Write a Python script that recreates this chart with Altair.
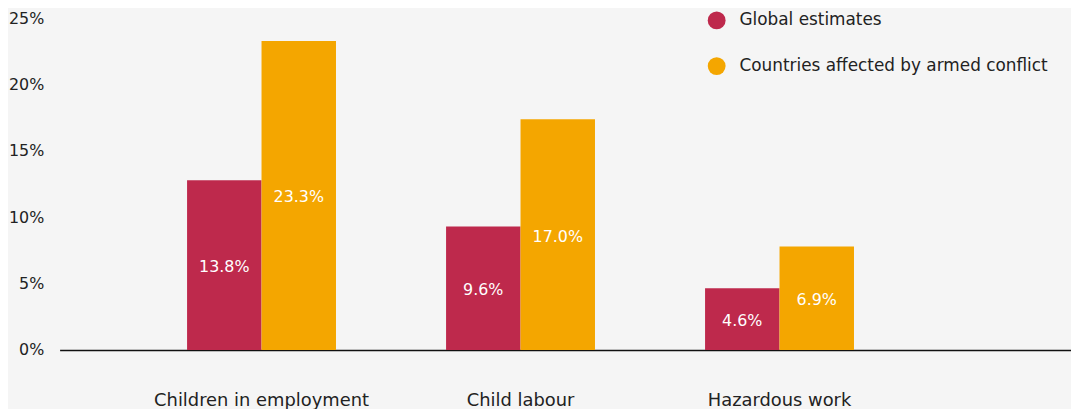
import altair as alt
import pandas as pd

categories = ["Children in employment", "Child labour", "Hazardous work"]
series = ["Global estimates", "Countries affected by armed conflict"]
global_values = [12.8, 9.3, 4.65]
conflict_values = [23.3, 17.4, 7.8]
global_labels = ["13.8%", "9.6%", "4.6%"]
conflict_labels = ["23.3%", "17.0%", "6.9%"]
colors = ["#BE294C", "#F4A600"]

rows = []
for i, c in enumerate(categories):
    rows.append({"category": c, "series": series[0], "value": global_values[i], "label": global_labels[i]})
    rows.append({"category": c, "series": series[1], "value": conflict_values[i], "label": conflict_labels[i]})
df = pd.DataFrame(rows)

FONT = "DejaVu Sans"

x = alt.X("category:N", sort=categories, title=None,
          scale=alt.Scale(paddingInner=0.425, paddingOuter=0.665, align=0.37),
          axis=alt.Axis(labelAngle=0, ticks=False, labelPadding=42, labelFontSize=18,
                        labelColor="#222222", labelFont=FONT, labelLimit=400, domain=True,
                        domainColor="#111111", domainWidth=1.5))
xo = alt.XOffset("series:N", sort=series, scale=alt.Scale(paddingInner=0, paddingOuter=0))

bars = alt.Chart(df).mark_bar().encode(
    x=x,
    xOffset=xo,
    y=alt.Y("value:Q", title=None,
            scale=alt.Scale(domain=[0, 25], nice=False),
            axis=alt.Axis(values=[0, 5, 10, 15, 20, 25], labelExpr="datum.value + '%'",
                          ticks=False, domain=False, grid=False, labelPadding=16,
                          labelFontSize=16, labelColor="#222222", labelFont=FONT)),
    color=alt.Color("series:N", sort=series,
                    scale=alt.Scale(domain=series, range=colors),
                    legend=alt.Legend(title=None, orient="none", legendX=653, legendY=-7,
                                      symbolType="circle", symbolSize=324, symbolStrokeWidth=0,
                                      labelFontSize=17, labelFont=FONT, labelColor="#222222",
                                      labelOffset=14, rowPadding=28, labelLimit=500)),
)

texts = alt.Chart(df).transform_calculate(mid="datum.value / 2").mark_text(
    color="white", fontSize=16, font=FONT, baseline="middle", align="center", dy=2
).encode(
    x=alt.X("category:N", sort=categories),
    xOffset=alt.XOffset("series:N", sort=series),
    y=alt.Y("mid:Q"),
    text="label:N",
)

chart = alt.layer(bars, texts).properties(
    width=1019, height=334,
    autosize=alt.AutoSizeParams(type="none"),
    padding={"left": 52, "top": 9, "right": 0, "bottom": 58},
    background="#f5f5f5",
).configure_view(stroke=None)

chart.save("out.html", embed_options={"renderer": "svg", "actions": False})
